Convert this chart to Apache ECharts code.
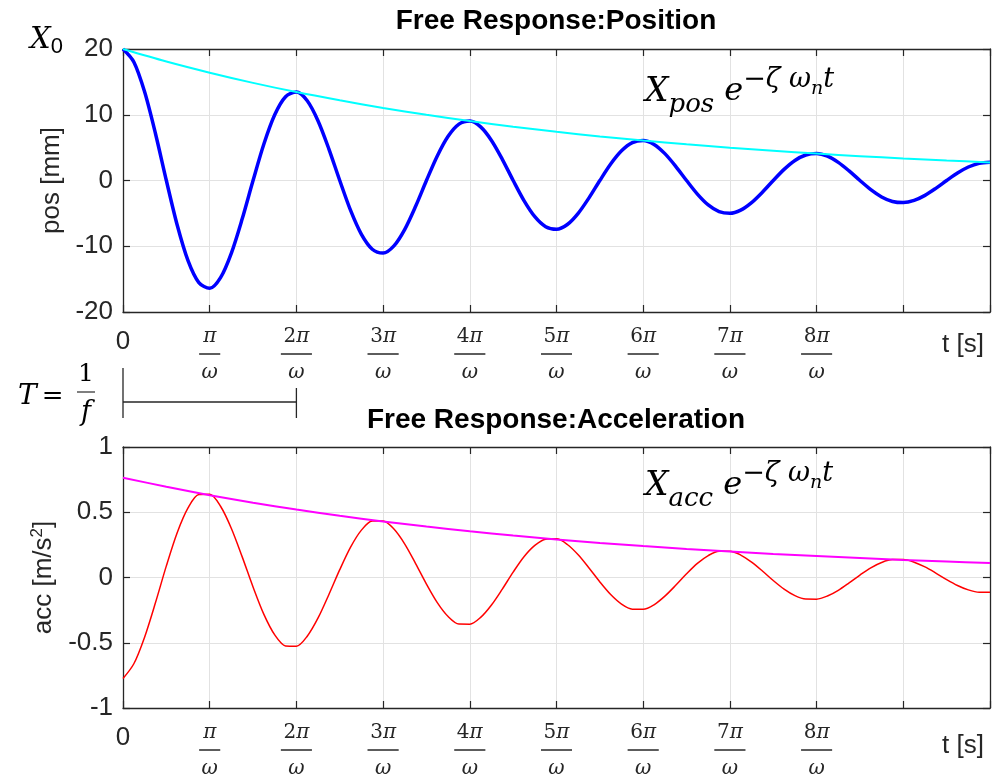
<!DOCTYPE html>
<html><head><meta charset="utf-8">
<script src="https://cdn.jsdelivr.net/npm/echarts@6/dist/echarts.min.js"></script>
<style>html,body{margin:0;padding:0;background:#fff}#c{width:1002px;height:779px}</style>
</head><body><div id="c"></div>
<script>
// time in units of pi/omega
const t = [0,0.125,0.25,0.375,0.5,0.625,0.75,0.875,1,1.125,1.25,1.375,1.5,1.625,1.75,1.875,2,2.125,2.25,2.375,2.5,2.625,2.75,2.875,3,3.125,3.25,3.375,3.5,3.625,3.75,3.875,4,4.125,4.25,4.375,4.5,4.625,4.75,4.875,5,5.125,5.25,5.375,5.5,5.625,5.75,5.875,6,6.125,6.25,6.375,6.5,6.625,6.75,6.875,7,7.125,7.25,7.375,7.5,7.625,7.75,7.875,8,8.125,8.25,8.375,8.5,8.625,8.75,8.875,9,9.125,9.25,9.375,9.5,9.625,9.75,9.875,10];
const posValues = [20,18.03,13.45,7.11,0,-6.77,-12.19,-15.53,-16.4,-14.78,-11.04,-5.83,0,5.55,9.99,12.74,13.45,12.12,9.05,4.78,0,-4.55,-8.19,-10.45,-11.03,-9.94,-7.42,-3.92,0,3.73,6.72,8.57,9.05,8.15,6.09,3.22,0,-3.06,-5.51,-7.03,-7.42,-6.69,-4.99,-2.64,0,2.51,4.52,5.77,6.09,5.49,4.09,2.16,0,-2.06,-3.71,-4.73,-4.99,-4.5,-3.36,-1.78,0,1.69,3.05,3.88,4.1,3.7,2.76,1.46,0,-1.39,-2.5,-3.19,-3.36,-3.03,-2.26,-1.19,0,1.14,2.05,2.61,2.76];
const accValues = [-0.774,-0.661,-0.455,-0.192,0.089,0.343,0.533,0.636,0.638,0.546,0.376,0.158,-0.073,-0.283,-0.44,-0.524,-0.526,-0.45,-0.31,-0.13,0.06,0.233,0.363,0.432,0.433,0.371,0.256,0.107,-0.05,-0.192,-0.299,-0.357,-0.358,-0.306,-0.211,-0.089,0.041,0.159,0.246,0.294,0.296,0.253,0.174,0.073,-0.034,-0.131,-0.204,-0.243,-0.244,-0.209,-0.143,-0.06,0.028,0.108,0.168,0.201,0.201,0.172,0.118,0.05,-0.023,-0.089,-0.139,-0.165,-0.166,-0.142,-0.098,-0.041,0.019,0.074,0.115,0.137,0.137,0.117,0.081,0.034,-0.016,-0.061,-0.095,-0.113,-0.113];
const envT = [0,0.5,1,1.5,2,2.5,3,3.5,4,4.5,5,5.5,6,6.5,7,7.5,8,8.5,9,9.5,10];
const posEnvelope = [20,18.1,16.4,14.85,13.45,12.2,11.03,9.99,9.04,8.19,7.41,6.71,6.08,5.5,4.99,4.52,4.09,3.7,3.35,3.04,2.75];
const accEnvelope = [0.765,0.695,0.631,0.573,0.521,0.473,0.43,0.39,0.354,0.322,0.292,0.265,0.241,0.219,0.199,0.18,0.164,0.149,0.135,0.123,0.111];
const xTickLabels = ['0','π','2π','3π','4π','5π','6π','7π','8π','',''];
const posRange = [-20, 20, 10];
const accRange = [-1, 1, 0.5];

const AX = '#262626', GRIDC = '#e2e2e2';
const SANS = 'Liberation Sans', SERIF = 'DejaVu Serif';

function xLabel(v) {
  const lab = xTickLabels[Math.round(v)];
  if (!lab) return '';
  if (lab === '0') return '{z|0}';
  const dig = lab.slice(0, -1);
  return (dig ? '{nd|' + dig + '}' : '') + '{n|π}\n' + (dig ? '{bl|}' : '{bs|}') + '\n{d|ω}';
}
const xRich = {
  z: {fontFamily: SANS, fontSize: 26, color: AX, lineHeight: 36},
  nd: {fontFamily: SERIF, fontSize: 20, color: AX, lineHeight: 26},
  n: {fontFamily: SERIF, fontStyle: 'italic', fontSize: 20, color: AX, lineHeight: 26},
  bl: {width: 31, height: 0, borderColor: AX, borderWidth: 1, lineHeight: 8},
  bs: {width: 21, height: 0, borderColor: AX, borderWidth: 1, lineHeight: 8},
  d: {fontFamily: SERIF, fontStyle: 'italic', fontSize: 20, color: AX, lineHeight: 30}
};

function xAxes(gi) {
  const line = {show: true, onZero: false, lineStyle: {color: AX, width: 1.3}};
  const tick = {show: true, inside: true, length: 7, lineStyle: {color: AX, width: 1.2}};
  return [
    {type: 'value', gridIndex: gi, position: 'bottom', min: 0, max: 10, interval: 1,
      axisLine: line, axisTick: tick,
      splitLine: {show: true, lineStyle: {color: GRIDC, width: 1}},
      axisLabel: {margin: 12, formatter: xLabel, rich: xRich, showMinLabel: true, showMaxLabel: true}},
    {type: 'value', gridIndex: gi, position: 'top', min: 0, max: 10, interval: 1,
      axisLine: line, axisTick: tick, splitLine: {show: false}, axisLabel: {show: false}}
  ];
}
function yAxes(gi, r, name, gap, rich) {
  const line = {show: true, onZero: false, lineStyle: {color: AX, width: 1.3}};
  const tick = {show: true, inside: true, length: 7, lineStyle: {color: AX, width: 1.2}};
  return [
    {type: 'value', gridIndex: gi, position: 'left', min: r[0], max: r[1], interval: r[2],
      axisLine: line, axisTick: tick,
      splitLine: {show: true, lineStyle: {color: GRIDC, width: 1}},
      axisLabel: {margin: 10, fontFamily: SANS, fontSize: 26, color: AX},
      name: name, nameLocation: 'middle', nameGap: gap,
      nameTextStyle: {fontFamily: SANS, fontSize: 26, color: AX, rich: rich}},
    {type: 'value', gridIndex: gi, position: 'right', min: r[0], max: r[1], interval: r[2],
      axisLine: line, axisTick: tick, splitLine: {show: false}, axisLabel: {show: false}}
  ];
}

const N = {fontWeight: 'normal', color: '#000'};
const exprRich = () => ({
  X: {...N, fontFamily: SERIF, fontStyle: 'italic', fontSize: 33, lineHeight: 52},
  sub: {...N, fontFamily: SERIF, fontStyle: 'italic', fontSize: 26, lineHeight: 52, verticalAlign: 'bottom'},
  e: {...N, fontFamily: SERIF, fontStyle: 'italic', fontSize: 32, lineHeight: 52},
  sup: {...N, fontFamily: SERIF, fontStyle: 'italic', fontSize: 27, lineHeight: 52, verticalAlign: 'top'},
  ss: {...N, fontFamily: SERIF, fontStyle: 'italic', fontSize: 19, lineHeight: 52, verticalAlign: 'top', padding: [14, 0, 0, 0]}
});

const chart = echarts.init(document.getElementById('c'), null, {renderer: 'canvas'});
const titleStyle = {fontFamily: SANS, fontWeight: 'bold', fontSize: 28, color: '#000'};
const option = {
  animation: false,
  backgroundColor: '#fff',
  grid: [
    {left: 123, top: 49, right: 12, height: 263},
    {left: 123, top: 447, right: 12, height: 262}
  ],
  title: [
    {text: 'Free Response:Position', left: 556, top: 7, textAlign: 'center', padding: 0, textStyle: titleStyle},
    {text: 'Free Response:Acceleration', left: 556, top: 406, textAlign: 'center', padding: 0, textStyle: titleStyle},
    {text: '{X|X}{s|0}', left: 30, top: 22, padding: 0, textStyle: {fontWeight: 'normal', rich: {
      X: {...N, fontFamily: SERIF, fontStyle: 'italic', fontSize: 29, lineHeight: 36},
      s: {...N, fontFamily: SANS, fontSize: 22, lineHeight: 36, verticalAlign: 'bottom'}}}},
    {text: '{X|X}{sub|pos}{e| e}{sup|−ζ ω}{ss|n}{sup|t}', left: 645, top: 66, padding: 0, textStyle: {fontWeight: 'normal', rich: exprRich()}},
    {text: '{X|X}{sub|acc}{e| e}{sup|−ζ ω}{ss|n}{sup|t}', left: 645, top: 460, padding: 0, textStyle: {fontWeight: 'normal', rich: exprRich()}},
    {text: '{T|T} {q|=}', left: 18, top: 379, padding: 0, textStyle: {fontWeight: 'normal', rich: {
      T: {...N, fontFamily: SERIF, fontStyle: 'italic', fontSize: 28, lineHeight: 36},
      q: {...N, fontFamily: SERIF, fontSize: 26, lineHeight: 36}}}},
    {text: '{n|1}\n{b|}\n{f|f}', left: 86, top: 360, textAlign: 'center', padding: 0, textStyle: {fontWeight: 'normal', rich: {
      n: {...N, fontFamily: SERIF, fontSize: 25, lineHeight: 28},
      b: {width: 18, height: 0, borderColor: '#000', borderWidth: 1.2, lineHeight: 8},
      f: {...N, fontFamily: SERIF, fontStyle: 'italic', fontSize: 27, lineHeight: 34}}}},
    {text: 't [s]', left: 963, top: 332, textAlign: 'center', padding: 0, textStyle: {fontFamily: SANS, fontSize: 26, color: AX, fontWeight: 'normal'}},
    {text: 't [s]', left: 963, top: 733, textAlign: 'center', padding: 0, textStyle: {fontFamily: SANS, fontSize: 26, color: AX, fontWeight: 'normal'}}
  ],
  xAxis: [...xAxes(0), ...xAxes(1)],
  yAxis: [
    ...yAxes(0, posRange, 'pos [mm]', 50, {}),
    ...yAxes(1, accRange, 'acc [m/s{sup|2}]', 58, {sup: {fontFamily: SANS, fontSize: 17, color: AX, verticalAlign: 'top', lineHeight: 30}})
  ],
  series: [
    {type: 'line', xAxisIndex: 0, yAxisIndex: 0, data: t.map((x, i) => [x, posValues[i]]), smooth: 0.3, showSymbol: false,
      lineStyle: {color: '#0000ff', width: 3.5}, z: 3},
    {type: 'line', xAxisIndex: 0, yAxisIndex: 0, data: envT.map((x, i) => [x, posEnvelope[i]]), smooth: 0.3, showSymbol: false,
      lineStyle: {color: '#00ffff', width: 2}, z: 4},
    {type: 'line', xAxisIndex: 2, yAxisIndex: 2, data: t.map((x, i) => [x, accValues[i]]), smooth: 0.3, showSymbol: false,
      lineStyle: {color: '#ff0000', width: 1.5}, z: 3},
    {type: 'line', xAxisIndex: 2, yAxisIndex: 2, data: envT.map((x, i) => [x, accEnvelope[i]]), smooth: 0.3, showSymbol: false,
      lineStyle: {color: '#ff00ff', width: 2}, z: 4}
  ]
};
chart.setOption(option);

// period bracket T = 2π/ω, placed through the x scale
const p0 = chart.convertToPixel({xAxisIndex: 0}, 0);
const p2 = chart.convertToPixel({xAxisIndex: 0}, 2);
const ls = {stroke: AX, lineWidth: 1.3};
chart.setOption({graphic: [
  {type: 'line', shape: {x1: p0, y1: 368, x2: p0, y2: 418}, style: ls},
  {type: 'line', shape: {x1: p2, y1: 388, x2: p2, y2: 418}, style: ls},
  {type: 'line', shape: {x1: p0, y1: 402, x2: p2, y2: 402}, style: ls}
]});
</script>
</body></html>
